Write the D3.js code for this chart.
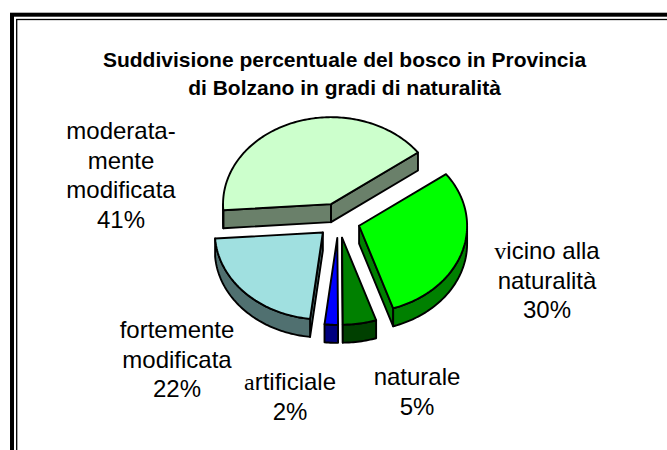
<!DOCTYPE html>
<html>
<head>
<meta charset="utf-8">
<script src="https://cdn.jsdelivr.net/npm/d3@7"></script>
<style>
  body { margin: 0; background: #fff; }
  svg { display: block; }
</style>
</head>
<body>
<div id="chart"></div>
<script>
// data
var categories = ["moderatamente modificata", "vicino alla naturalità", "naturale", "artificiale", "fortemente modificata"];
var labelLines = [["moderata-", "mente", "modificata"], ["vicino alla", "naturalità"], ["naturale"], ["artificiale"], ["fortemente", "modificata"]];
var values = [41, 30, 5, 2, 22];
var topColors = ["#ccffcc", "#00ff00", "#008000", "#0000ff", "#a0e0e0"];
var sideColors = ["#6a806a", "#008000", "#004000", "#000080", "#507070"];
var titleLines = ["Suddivisione percentuale del bosco in Provincia", "di Bolzano in gradi di naturalità"];
// lines whose first letter is set in a serif face in the original
var serifFirst = ["vicino alla", "artificiale"];

// label anchors (centre x, first baseline)
var labelPos = [[121, 139], [547, 259], [417, 385], [290, 390], [177, 338]];

var width = 667, height = 450;
var cx = 338.5, cy = 220.5, rx = 108, ry = 87, depth = 18, explode = 0.2;
var start = 266 * Math.PI / 180;

var svg = d3.select("#chart")
  .append("svg")
    .attr("width", width)
    .attr("height", height);

// double frame
svg.append("rect")
  .attr("x", 12).attr("y", 14.7)
  .attr("width", 700).attr("height", 500)
  .attr("fill", "none").attr("stroke", "#000").attr("stroke-width", 4);
svg.append("rect")
  .attr("x", 16.7).attr("y", 19.5)
  .attr("width", 700).attr("height", 500)
  .attr("fill", "none").attr("stroke", "#000").attr("stroke-width", 1.3);

// title
svg.append("text")
  .attr("x", 344.5).attr("y", 67)
  .attr("text-anchor", "middle")
  .style("font-family", "'Liberation Sans', Arial, sans-serif")
  .style("font-size", "21px")
  .style("font-weight", "bold")
  .selectAll("tspan")
  .data(titleLines)
  .enter()
  .append("tspan")
    .attr("x", 344.5)
    .attr("dy", function(d, i) { return i ? 28 : 0; })
    .text(function(d) { return d; });

var pie = d3.pie()
  .sort(null)
  .startAngle(start)
  .endAngle(start + 2 * Math.PI);

var arcs = pie(values);

function offsetOf(d) {
  var m = (d.startAngle + d.endAngle) / 2;
  return [explode * rx * Math.sin(m), -explode * ry * Math.cos(m)];
}

function pt(a, r, z, off) {
  return [cx + off[0] + r * rx * Math.sin(a), cy + off[1] - r * ry * Math.cos(a) + z];
}

function arcPoints(a0, a1, z, off) {
  var n = Math.max(2, Math.ceil((a1 - a0) / 0.02));
  var pts = [];
  for (var i = 0; i <= n; i++) {
    pts.push(pt(a0 + (a1 - a0) * i / n, 1, z, off));
  }
  return pts;
}

function toPath(pts) {
  return "M" + pts.map(function(p) { return p[0].toFixed(2) + "," + p[1].toFixed(2); }).join("L") + "Z";
}

// back slices first
var order = arcs.map(function(d, i) {
  var off = offsetOf(d);
  var m = (d.startAngle + d.endAngle) / 2;
  return { d: d, i: i, off: off, key: off[1] - 0.5 * ry * Math.cos(m) };
}).sort(function(a, b) { return a.key - b.key; });

var g = svg.append("g")
  .attr("stroke", "#000")
  .attr("stroke-width", 1.9)
  .attr("stroke-linejoin", "round");

order.forEach(function(s) {
  var d = s.d, off = s.off, a0 = d.startAngle, a1 = d.endAngle;
  var faces = [];

  // radial faces
  if (Math.sin(a0) < 0) {
    faces.push([pt(a0, 0, 0, off), pt(a0, 1, 0, off), pt(a0, 1, depth, off), pt(a0, 0, depth, off)]);
  }
  if (Math.sin(a1) > 0) {
    faces.push([pt(a1, 0, 0, off), pt(a1, 1, 0, off), pt(a1, 1, depth, off), pt(a1, 0, depth, off)]);
  }

  // outer wall on the front half
  [[Math.PI / 2, 3 * Math.PI / 2], [5 * Math.PI / 2, 7 * Math.PI / 2]].forEach(function(r) {
    var t0 = Math.max(a0, r[0]), t1 = Math.min(a1, r[1]);
    if (t1 > t0) {
      var topPts = arcPoints(t0, t1, 0, off);
      var botPts = arcPoints(t0, t1, depth, off).reverse();
      faces.push(topPts.concat(botPts));
    }
  });

  faces.forEach(function(f) {
    g.append("path")
      .attr("d", toPath(f))
      .attr("fill", sideColors[s.i]);
  });

  var top = [pt(a0, 0, 0, off)].concat(arcPoints(a0, a1, 0, off));
  g.append("path")
    .attr("d", toPath(top))
    .attr("fill", topColors[s.i]);
});

// labels
var labels = svg.append("g")
  .style("font-family", "'Liberation Sans', Arial, sans-serif")
  .style("font-size", "24px")
  .attr("fill", "#000");

arcs.forEach(function(d, i) {
  var lines = labelLines[i].concat([Math.round(values[i]) + "%"]);
  var t = labels.append("text")
    .attr("text-anchor", "middle")
    .attr("x", labelPos[i][0])
    .attr("y", labelPos[i][1]);
  lines.forEach(function(l, j) {
    var ts = t.append("tspan")
      .attr("x", labelPos[i][0])
      .attr("dy", j ? 29.5 : 0);
    if (serifFirst.indexOf(l) >= 0) {
      ts.append("tspan")
        .style("font-family", "'Liberation Serif', 'Times New Roman', serif")
        .text(l.charAt(0));
      ts.append("tspan").text(l.slice(1));
    } else {
      ts.text(l);
    }
  });
});
</script>
</body>
</html>
